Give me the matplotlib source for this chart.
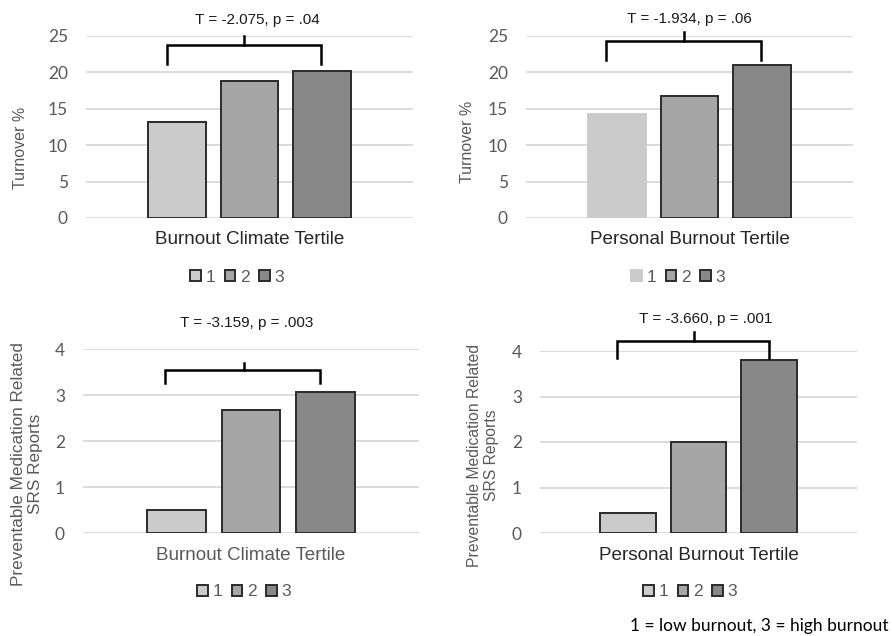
import matplotlib
matplotlib.use('Agg')
import matplotlib.pyplot as plt
import numpy as np

# 数据
tertiles = ['1', '2', '3']
climate_turnover = [13.2, 18.8, 20.2]
personal_turnover = [14.35, 16.8, 21.0]
climate_srs = [0.5, 2.67, 3.07]
personal_srs = [0.44, 2.0, 3.8]
stat_labels = ['T = -2.075, p = .04', 'T = -1.934, p = .06',
               'T = -3.159, p = .003', 'T = -3.660, p = .001']
x_titles = ['Burnout Climate Tertile', 'Personal Burnout Tertile',
            'Burnout Climate Tertile', 'Personal Burnout Tertile']
y_titles = ['Turnover %', 'Turnover %',
            'Preventable Medication Related\nSRS Reports',
            'Preventable Medication Related\nSRS Reports']
note = '1 = low burnout, 3 = high burnout'

bar_colors = ['#cbcbcb', '#a6a6a6', '#888888']
W, H = 892, 636
fig = plt.figure(figsize=(W / 100, H / 100), dpi=100)


def fx(px):
    return px / W


def fy(py):
    return 1 - py / H


# 各子图的像素位置: 左, 右, 顶(最大刻度), 底(0)
panels = [
    dict(box=(86, 413, 36, 218), data=climate_turnover, ymax=25, step=5,
         br=(-0.13, 1.99, 0.93, 21.15, 23.76, 25.0), title=(257, 20),
         xl=240, xl_c='#262626', yl=(21, 148), yl_size=11.5, leg=(237, 277), edge1=True),
    dict(box=(526, 853, 36, 218), data=personal_turnover, ymax=25, step=5,
         br=(-0.145, 1.99, 0.92, 21.7, 24.3, 25.5), title=(689, 19),
         xl=240, xl_c='#262626', yl=(468, 142), yl_size=11.5, leg=(678, 277), edge1=False),
    dict(box=(83, 419, 349, 533), data=climate_srs, ymax=4, step=1,
         br=(-0.15, 1.93, 0.9, 3.26, 3.54, 3.70), title=(247, 323),
         xl=556, xl_c='#595959', yl=(27, 464), yl_size=12.3, leg=(244, 592), edge1=True),
    dict(box=(540, 857, 351, 533), data=personal_srs, ymax=4, step=1,
         br=(-0.16, 2.0, 0.93, 3.85, 4.22, 4.42), title=(706, 319),
         xl=556, xl_c='#262626', yl=(483, 455), yl_size=11.3, leg=(690, 592), edge1=True),
]

for i, p in enumerate(panels):
    l, r, t, b = p['box']
    ax = fig.add_axes([fx(l), fy(b), (r - l) / W, (b - t) / H])
    x = np.arange(len(tertiles))
    bars = ax.bar(x, p['data'], width=0.79, color=bar_colors,
                  edgecolor='#2b2b2b', linewidth=1.4, zorder=3)
    if not p['edge1']:
        bars[0].set_edgecolor(bar_colors[0])
    ax.set_xlim(-1.25, 3.25)
    ax.set_ylim(0, p['ymax'])
    ax.set_yticks(np.arange(0, p['ymax'] + 0.1, p['step']))
    ax.set_xticks([])
    ax.grid(axis='y', color='#d9d9d9', linewidth=1.3, zorder=0)
    for s in ax.spines.values():
        s.set_visible(False)
    ax.tick_params(axis='y', length=0, pad=13, labelsize=12.5, labelcolor='#595959')
    for lab in ax.get_yticklabels():
        lab.set_family('Lato')

    # 括号
    x0, x1, xm, ylo, yhi, ytop = p['br']
    ax.plot([x0, x0, x1, x1], [ylo, yhi, yhi, ylo], color='black', lw=1.8,
            clip_on=False, zorder=4, solid_joinstyle='miter')
    ax.plot([xm, xm], [yhi, ytop], color='black', lw=1.8, clip_on=False, zorder=4)

    fig.text(fx(p['title'][0]), fy(p['title'][1]), stat_labels[i], ha='center', va='center',
             fontsize=11, family='Liberation Sans', color='#1a1a1a')
    fig.text(fx((l + r) / 2), fy(p['xl']), x_titles[i], ha='center', va='center',
             fontsize=13.6, family='Liberation Sans', color=p['xl_c'])
    fig.text(fx(p['yl'][0]), fy(p['yl'][1]), y_titles[i], ha='center', va='center',
             rotation=90, fontsize=p['yl_size'], family='Liberation Sans', color='#595959',
             linespacing=1.2)

    leg = ax.legend(bars, tertiles, loc='center', ncol=3, frameon=False,
                    bbox_to_anchor=(fx(p['leg'][0]), fy(p['leg'][1])),
                    bbox_transform=fig.transFigure, handlelength=0.62, handleheight=0.62,
                    handletextpad=0.25, columnspacing=0.55, borderpad=0,
                    prop={'family': 'Liberation Sans', 'size': 12.5})
    for txt in leg.get_texts():
        txt.set_color('#595959')

fig.text(fx(889), fy(626), note, ha='right', va='center', fontsize=12.5,
         family='Lato', color='black')

fig.savefig('out.png', dpi=100)
